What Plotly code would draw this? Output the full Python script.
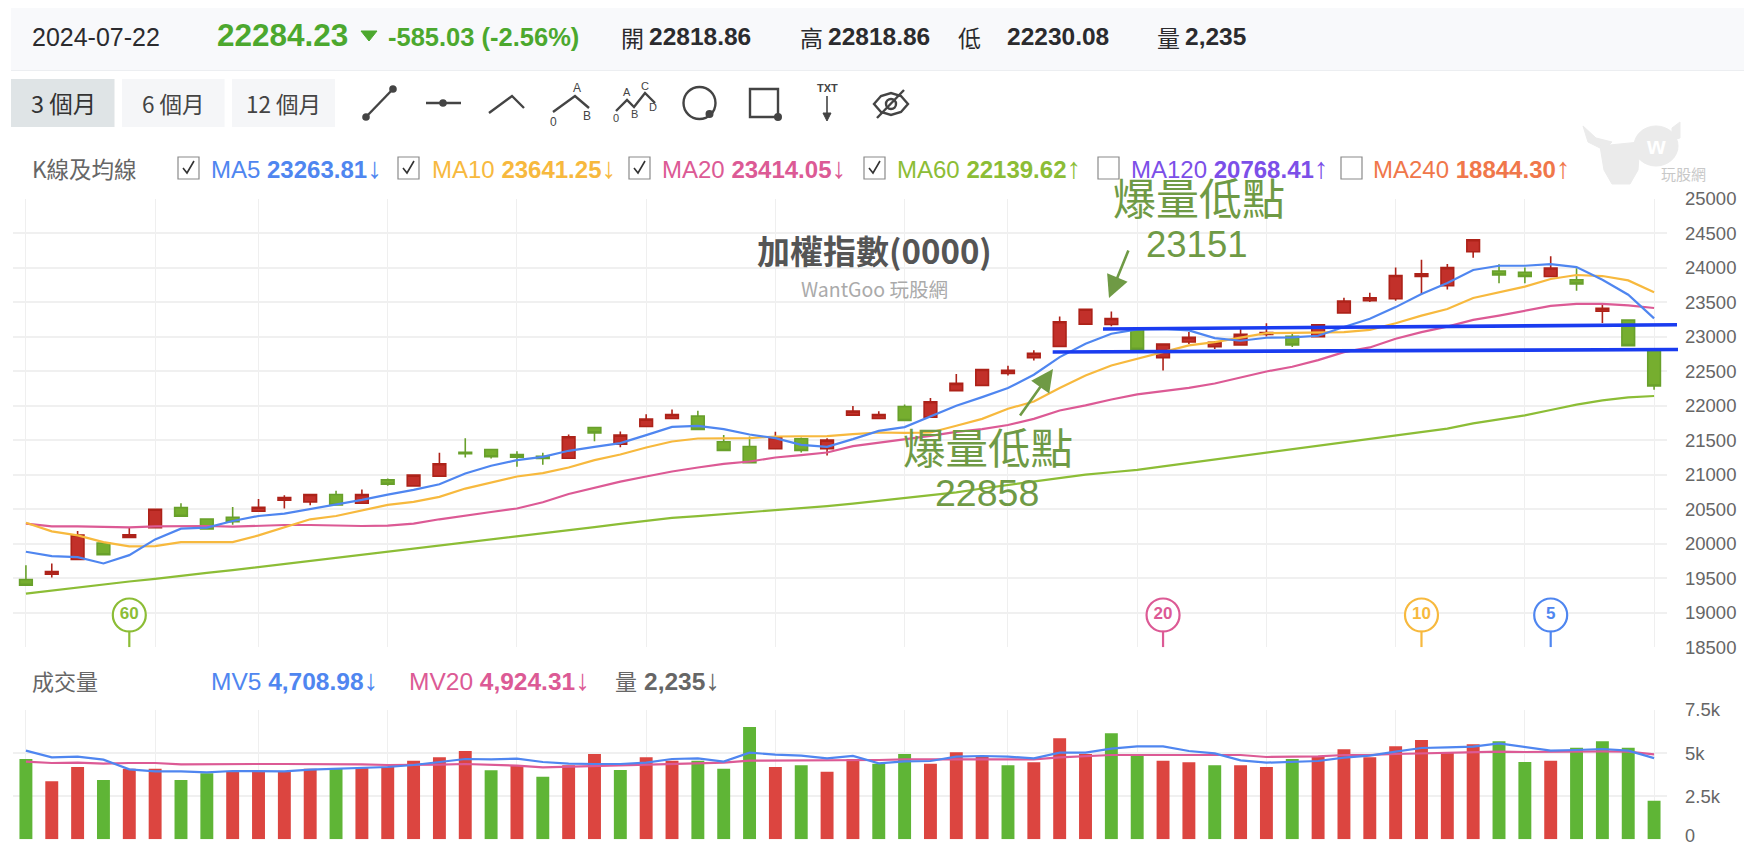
import plotly.graph_objects as go

# the page keeps the browser's 8px body margin, so the figure is 16px smaller than the window
W, H = 1736, 838
PAGE = 8
FONT = "Liberation Sans, Noto Sans CJK TC, sans-serif"
CJK = "Noto Sans CJK TC, Liberation Sans, sans-serif"

days = list(range(64))
grid_days = [0, 5, 9, 14, 19, 24, 29, 34, 38, 43, 48, 53, 58, 63]

opens = [19482, 19559, 19772, 20010, 20092, 20233, 20523, 20359, 20383, 20470, 20630, 20606, 20712, 20586, 20925, 20838,
         20979, 21323, 21365, 21293, 21268, 21239, 21684, 21442, 21698, 21814, 21848, 21476, 21408, 21375, 21520, 21375,
         21862, 21814, 21988, 21833, 22217, 22294, 22466, 22696, 22858, 23180, 23175, 23110, 22696, 22922, 22854, 22878,
         23032, 23003, 22998, 23343, 23520, 23549, 23870, 23736, 24229, 23951, 23932, 23870, 23824, 23367, 23240, 22818.86]
highs = [19690, 19714, 20184, 20010, 20233, 20510, 20586, 20359, 20533, 20649, 20703, 20712, 20766, 20785, 20945, 20993,
         21318, 21526, 21365, 21341, 21317, 21582, 21684, 21626, 21877, 21945, 21925, 21573, 21553, 21621, 21539, 21529,
         21993, 21920, 22017, 22109, 22457, 22524, 22577, 22802, 23290, 23396, 23362, 23110, 22893, 23065, 22935, 23118,
         23195, 23036, 23171, 23563, 23635, 23999, 24114, 24052, 24411, 24047, 23999, 24162, 23988, 23473, 23240, 22818.86]
lows = [19399, 19511, 19772, 19840, 20092, 20233, 20397, 20213, 20276, 20470, 20509, 20557, 20562, 20586, 20838, 20838,
        20979, 21250, 21235, 21114, 21143, 21239, 21486, 21399, 21698, 21814, 21655, 21350, 21172, 21375, 21321, 21278,
        21862, 21814, 21785, 21833, 22217, 22280, 22438, 22653, 22858, 23180, 23151, 22815, 22510, 22893, 22821, 22878,
        23003, 22850, 22998, 23343, 23501, 23520, 23611, 23683, 24143, 23774, 23774, 23870, 23665, 23198, 22869.26, 22230.08]
closes = [19399, 19598, 20126, 19840, 20131, 20499, 20397, 20213, 20320, 20528, 20669, 20712, 20562, 20712, 20862, 20993,
          21158, 21303, 21259, 21254, 21235, 21549, 21606, 21573, 21804, 21872, 21655, 21350, 21172, 21534, 21350, 21500,
          21920, 21872, 21785, 22056, 22323, 22524, 22510, 22759, 23214, 23396, 23262, 22815, 22893, 22989, 22917, 23032,
          23060, 22878, 23171, 23515, 23563, 23884, 23908, 23999, 24402, 23894, 23870, 23994, 23762, 23410, 22869.26, 22284.23]

ma5 = [19884, 19821, 19806, 19714, 19835, 20063, 20218, 20233, 20329, 20402, 20436, 20499, 20562, 20635, 20712, 20780,
       20862, 21017, 21129, 21210, 21259, 21346, 21404, 21457, 21573, 21693, 21708, 21660, 21582, 21529, 21433, 21404,
       21515, 21635, 21689, 21843, 21998, 22123, 22254, 22447, 22703, 22896, 23041, 23104, 23113, 23089, 22978, 22940,
       22983, 22988, 23012, 23138, 23258, 23427, 23617, 23776, 23964, 24026, 24026, 24050, 24007, 23824, 23607, 23263.81]
ma10 = [20305, 20179, 20121, 20024, 19961, 19966, 20024, 20024, 20024, 20121, 20237, 20354, 20402, 20484, 20562, 20606,
        20678, 20799, 20887, 20974, 21022, 21104, 21210, 21292, 21394, 21481, 21524, 21529, 21529, 21553, 21558, 21558,
        21587, 21611, 21606, 21611, 21708, 21809, 21954, 22060, 22254, 22437, 22582, 22679, 22775, 22872, 22920, 22983,
        23051, 23055, 23065, 23065, 23097, 23193, 23304, 23400, 23559, 23641, 23723, 23834, 23892, 23877, 23814, 23641.25]
ma20 = [20291, 20252, 20252, 20242, 20237, 20252, 20257, 20257, 20247, 20262, 20271, 20271, 20262, 20257, 20262, 20291,
        20354, 20402, 20460, 20510, 20600, 20720, 20810, 20900, 20974, 21046, 21104, 21157, 21191, 21249, 21283, 21321,
        21413, 21462, 21505, 21563, 21621, 21660, 21720, 21809, 21930, 22003, 22089, 22162, 22210, 22258, 22321, 22408,
        22495, 22563, 22659, 22775, 22843, 22969, 23065, 23145, 23242, 23304, 23376, 23444, 23473, 23473, 23453, 23414.05]
ma60 = [19278, 19322, 19375, 19419, 19453, 19491, 19540, 19579, 19617, 19661, 19705, 19748, 19797, 19840, 19884, 19927,
        19971, 20015, 20063, 20108, 20150, 20195, 20240, 20288, 20332, 20375, 20400, 20428, 20456, 20484, 20512, 20545,
        20580, 20620, 20660, 20700, 20745, 20800, 20850, 20900, 20950, 21000, 21035, 21070, 21120, 21170, 21220, 21270,
        21320, 21370, 21420, 21470, 21520, 21566, 21614, 21667, 21744, 21802, 21860, 21937, 22014, 22076, 22120, 22139.62]

volumes = [4659, 3363, 4195, 3441, 4098, 4098, 3441, 3827, 3943, 3982, 3943, 4098, 4098, 4156, 4214, 4562,
           4755, 5122, 4001, 4291, 3634, 4291, 4948, 4021, 4755, 4562, 4562, 4098, 6514, 4195, 4291, 3924,
           4659, 4388, 4948, 4388, 5045, 4833, 4291, 4465, 5857, 4948, 6147, 4833, 4562, 4465, 4291, 4291,
           4195, 4659, 4833, 5219, 4755, 5393, 5760, 5026, 5509, 5683, 4485, 4562, 5316, 5683, 5316, 2235]
vol_dir = ("g r r g r r g g r r r r g r r r r r g r g r r g r r g g g r g r "
           "r g g r r r g r r r g g r r g r r g r r r r r r r g g r g g g g").split()
mv5 = [5142, 4755, 4794, 4620, 4059, 3943, 3943, 3885, 3963, 3963, 3943, 4040, 4098, 4156, 4195, 4311,
       4465, 4659, 4639, 4678, 4485, 4388, 4369, 4369, 4446, 4659, 4697, 4504, 5026, 4910, 4852, 4697,
       4833, 4407, 4523, 4543, 4794, 4833, 4794, 4697, 5026, 5026, 5258, 5393, 5393, 5122, 4987, 4581,
       4446, 4485, 4543, 4736, 4852, 5084, 5296, 5335, 5374, 5567, 5335, 5142, 5180, 5238, 5142, 4708.98]
mv20 = [4504, 4427, 4446, 4388, 4427, 4427, 4349, 4369, 4369, 4369, 4369, 4369, 4369, 4349, 4311, 4311,
        4330, 4369, 4330, 4272, 4175, 4214, 4272, 4311, 4349, 4349, 4427, 4446, 4562, 4562, 4562, 4581,
        4601, 4601, 4639, 4639, 4639, 4601, 4639, 4639, 4755, 4833, 4890, 4890, 4890, 4890, 4890, 4890,
        4775, 4794, 4813, 4890, 4890, 4948, 4987, 5006, 5026, 5084, 5065, 5084, 5084, 5103, 5084, 4924.31]

price_ticks = [25000, 24500, 24000, 23500, 23000, 22500, 22000, 21500, 21000, 20500, 20000, 19500, 19000, 18500]
vol_ticks = [7500, 5000, 2500, 0]
# the 0 sits too close to the page edge for an axis label, it gets an annotation below
vol_tick_text = ["7.5k", "5k", "2.5k", ""]

flag_days = [4, 44, 54, 59]
flag_text = ["60", "20", "10", "5"]
flag_price = [18968, 18968, 18968, 18968]

BLUE, ORANGE, PINK, LIME, PURPLE, CORAL = "#4f86f0", "#f7b93e", "#dc5a95", "#8cbd36", "#7c4fe8", "#f0774a"
flag_colors = [LIME, PINK, ORANGE, BLUE]
ma_legend = [
    ("MA5", "23263.81", "↓", BLUE, 210, 178, True),
    ("MA10", "23641.25", "↓", ORANGE, 431, 398, True),
    ("MA20", "23414.05", "↓", PINK, 661, 629, True),
    ("MA60", "22139.62", "↑", LIME, 896, 864, True),
    ("MA120", "20768.41", "↑", PURPLE, 1130, 1098, False),
    ("MA240", "18844.30", "↑", CORAL, 1372, 1341, False),
]


def fx(x):
    return (x - PAGE) / W


def fy(y):
    return 1 - (y - PAGE) / H


def label(x, y, text, size, color, anchor="left", family=FONT):
    return dict(xref="paper", yref="paper", x=fx(x), y=fy(y), text=text, showarrow=False,
                xanchor=anchor, yanchor="middle", align=anchor, borderpad=0,
                font=dict(family=family, size=size, color=color))


def seg(x0, y0, x1, y1, color="#444444", width=2.4):
    return dict(type="line", xref="paper", yref="paper", x0=fx(x0), y0=fy(y0), x1=fx(x1), y1=fy(y1),
                line=dict(color=color, width=width), layer="above")


def box(x0, y0, x1, y1, fill, line="rgba(0,0,0,0)", width=0, layer="below"):
    return dict(type="rect", xref="paper", yref="paper", x0=fx(x0), y0=fy(y0), x1=fx(x1), y1=fy(y1),
                fillcolor=fill, line=dict(color=line, width=width), layer=layer)


def oval(cx, cy, r, fill="rgba(0,0,0,0)", line="#444444", width=2.4, ry=None):
    ry = ry or r
    return dict(type="circle", xref="paper", yref="paper", x0=fx(cx - r), y0=fy(cy - ry), x1=fx(cx + r), y1=fy(cy + ry),
                fillcolor=fill, line=dict(color=line, width=width), layer="above")


def poly(points, fill=None, line="#444444", width=2.4, close=False):
    path = "M " + " L ".join(f"{fx(x):.5f} {fy(y):.5f}" for x, y in points) + (" Z" if close else "")
    return dict(type="path", xref="paper", yref="paper", path=path, fillcolor=fill or "rgba(0,0,0,0)",
                line=dict(color=line, width=width), layer="above")


def arrow_text(arrow, size=29):
    return f'<span style="font-size:{size}px">{arrow}</span>'


fig = go.Figure()
fig.add_trace(go.Candlestick(
    x=days, open=opens, high=highs, low=lows, close=closes, xaxis="x", yaxis="y", whiskerwidth=0,
    increasing=dict(line=dict(color="#ad2219", width=1.6), fillcolor="#c2302a"),
    decreasing=dict(line=dict(color="#68a02b", width=1.6), fillcolor="#76ae2f"),
    showlegend=False, hoverinfo="skip",
))
for values, color in [(ma60, LIME), (ma20, PINK), (ma10, ORANGE), (ma5, BLUE)]:
    fig.add_trace(go.Scatter(x=days, y=values, mode="lines", xaxis="x", yaxis="y",
                             line=dict(color=color, width=2.2), showlegend=False))
fig.add_trace(go.Scatter(
    x=flag_days, y=flag_price, mode="markers+text", text=flag_text, textposition="middle center",
    textfont=dict(family=FONT, size=17, color=flag_colors, weight="bold"),
    marker=dict(size=33, color="white", line=dict(color=flag_colors, width=2.2)),
    xaxis="x", yaxis="y", showlegend=False,
))
fig.add_trace(go.Bar(
    x=days, y=volumes, width=0.5, xaxis="x2", yaxis="y2", showlegend=False,
    marker=dict(color=["#dc4540" if v == "r" else "#5fb536" for v in vol_dir], line=dict(width=0)),
))
for values, color in [(mv20, PINK), (mv5, BLUE)]:
    fig.add_trace(go.Scatter(x=days, y=values, mode="lines", xaxis="x2", yaxis="y2",
                             line=dict(color=color, width=2.2), showlegend=False))

shapes = [
    box(11, 8, 1744, 70, "#f8f9fb"),
    seg(11, 70.5, 1744, 70.5, "#eceef1", 1),
    box(11, 79, 114.5, 127, "#dfe4e6"),
    box(122, 79, 224.6, 127, "#f5f6f8"),
    box(232, 79, 335, 127, "#f5f6f8"),
]
for day, color in zip(flag_days, flag_colors):
    shapes.append(dict(type="line", xref="x", yref="y", x0=day, x1=day, y0=18500, y1=18740,
                       line=dict(color=color, width=2.2), layer="above"))

# toolbar icons
shapes += [seg(366, 117, 393, 89), oval(366, 117, 2.6, "#444444"), oval(393, 89, 2.6, "#444444")]
shapes += [seg(426, 103, 461, 103), oval(443, 103, 2.6, "#444444")]
shapes += [poly([(489, 113), (512, 96), (524, 108)])]
shapes += [poly([(553, 112), (575, 96), (589, 108)])]
shapes += [poly([(616, 111), (627, 100), (634, 107), (645, 93), (655, 103)])]
shapes += [oval(699.5, 103, 16), oval(709.5, 114, 2.8, "#444444")]
shapes += [box(750, 89, 778, 117, "rgba(0,0,0,0)", "#444444", 2.4, "above"), oval(778, 117, 2.8, "#444444")]
shapes += [seg(827, 96, 827, 118, width=1.6), poly([(823, 113), (831, 113), (827, 121)], "#444444", width=1, close=True)]
shapes += [
    poly([(874, 104), (881, 96), (891, 93), (901, 96), (908, 104), (901, 112), (891, 115), (881, 112)], close=True),
    oval(891, 104, 5),
    seg(877, 118, 904, 90),
]

# checkboxes of the average legend
for name, value, arrow, color, tx, bx, checked in ma_legend:
    shapes.append(box(bx, 157, bx + 21, 179, "white", "#8a8a8a", 1.2, "above"))
    if checked:
        shapes.append(poly([(bx + 5, 168), (bx + 9, 173), (bx + 16, 161)], line="#333333", width=1.6))

# watermark
MARK = "#ebebeb"
shapes += [
    poly([(1583, 126), (1588, 142), (1604, 150), (1612, 142), (1596, 138)], MARK, MARK, 1, True),
    poly([(1600, 146), (1640, 142), (1638, 170), (1630, 184), (1612, 184), (1604, 170)], MARK, MARK, 1, True),
    oval(1656, 146, 22, MARK, MARK, 1, 20),
    poly([(1672, 128), (1680, 122), (1680, 138), (1672, 140)], MARK, MARK, 1, True),
]

# hand drawn support lines, they run past the plot area
shapes += [
    seg(1103, 329, 1677, 324.7, "#1a3cf0", 3.6),
    seg(1052.7, 352, 1678, 349.5, "#1a3cf0", 3.6),
]
# triangle next to the close
shapes.append(poly([(361, 31), (377, 31), (369, 41)], "#4ca82e", "#4ca82e", 1, True))

GREEN_TXT = "#4ca82e"
DARK = "#2b2b2e"
annotations = [
    label(31, 37, "2024-07-22", 25, DARK),
    label(216, 35, "<b>22284.23</b>", 31.5, GREEN_TXT),
    label(387, 37, "<b>-585.03 (-2.56%)</b>", 25.5, GREEN_TXT),
    label(620, 37, "開", 23, DARK, family=CJK),
    label(648, 37, "<b>22818.86</b>", 24.5, DARK),
    label(799, 37, "高", 23, DARK, family=CJK),
    label(827, 37, "<b>22818.86</b>", 24.5, DARK),
    label(957, 37, "低", 23, DARK, family=CJK),
    label(1006, 37, "<b>22230.08</b>", 24.5, DARK),
    label(1156, 37, "量", 23, DARK, family=CJK),
    label(1184, 37, "<b>2,235</b>", 24.5, DARK),
    label(63, 103, "3 個月", 23.5, "#333333", "center", CJK),
    label(173, 103, "6 個月", 22.5, "#444444", "center", CJK),
    label(283.5, 103, "12 個月", 22.5, "#444444", "center", CJK),
    label(576.5, 88, "A", 12, "#444444", "center"),
    label(553, 122, "0", 12, "#444444", "center"),
    label(587, 116, "B", 12, "#444444", "center"),
    label(627, 92, "A", 11, "#444444", "center"),
    label(645, 86, "C", 11, "#444444", "center"),
    label(616, 118, "0", 11, "#444444", "center"),
    label(634, 114, "B", 11, "#444444", "center"),
    label(652.5, 107, "D", 11, "#444444", "center"),
    label(827, 88, "<b>TXT</b>", 11, "#444444", "center"),
    label(31, 168, "K線及均線", 22.5, "#666666", family=CJK),
    label(1656, 146, "<b>w</b>", 24, "#ffffff", "center"),
    label(1683, 173, "玩股網", 15, "#c8c8c8", "center", CJK),
    label(31, 680, "成交量", 22, "#666666", family=CJK),
    label(210, 680, f"MV5 <b>4,708.98</b>{arrow_text('↓')}", 24.5, BLUE),
    label(408, 680, f"MV20 <b>4,924.31</b>{arrow_text('↓')}", 24.5, PINK),
    label(614, 680, "量", 22, "#666666", family=CJK),
    label(643, 680, f"<b>2,235</b>{arrow_text('↓')}", 24.5, "#666666"),
    label(1684, 835.5, "0", 18, "#666666"),
    label(874, 250, "<b>加權指數(0000)</b>", 33, "#555555", "center", CJK),
    label(874, 288, "WantGoo 玩股網", 19.5, "#aaaaaa", "center", CJK),
    label(1199, 196, "爆量低點", 43, "#6f9a45", "center", CJK),
    label(1197, 244, "23151", 36.5, "#6f9a45", "center"),
    label(988, 445, "爆量低點", 42.5, "#6f9a45", "center", CJK),
    label(987, 493, "22858", 37.5, "#6f9a45", "center"),
    dict(xref="paper", yref="paper", x=fx(1109), y=fy(298), axref="pixel", ayref="pixel", ax=20, ay=-49,
         text="", showarrow=True, arrowhead=2, arrowsize=1.7, arrowwidth=2.6, arrowcolor="#6f9a45"),
    dict(xref="paper", yref="paper", x=fx(1053), y=fy(369), axref="pixel", ayref="pixel", ax=-34, ay=48,
         text="", showarrow=True, arrowhead=2, arrowsize=1.7, arrowwidth=2.6, arrowcolor="#6f9a45"),
]
for name, value, arrow, color, tx, bx, checked in ma_legend:
    annotations.append(label(tx, 168, f"{name} <b>{value}</b>{arrow_text(arrow)}", 24, color))

axis_common = dict(range=[-0.5, 63.5], tickmode="array", tickvals=grid_days, showticklabels=False, showgrid=True,
                   gridcolor="#efefef", gridwidth=1.4, zeroline=False, showline=False, ticks="")
y_common = dict(side="right", showgrid=True, gridcolor="#f0f0f0", gridwidth=2, zeroline=False, showline=False,
                tickmode="array", ticklabelstandoff=17, tickfont=dict(family=FONT, size=18.5, color="#666666"),
                ticks="")
fig.update_layout(
    width=W, height=H, margin=dict(l=0, r=0, t=0, b=0, pad=0, autoexpand=False), autosize=False,
    paper_bgcolor="white", plot_bgcolor="white", showlegend=False, boxgap=0.3, bargap=0.5, hovermode=False,
    font=dict(family=FONT),
    xaxis=dict(domain=[fx(13), fx(1667)], anchor="y", rangeslider=dict(visible=False), **axis_common),
    xaxis2=dict(domain=[fx(13), fx(1667)], anchor="y2", **axis_common),
    yaxis=dict(domain=[fy(647.3), fy(198.5)], anchor="x", range=[18500, 25000], tickvals=price_ticks,
               tickformat="d", automargin=False, **y_common),
    yaxis2=dict(domain=[fy(839.3), fy(710)], anchor="x2", range=[0, 7500], tickvals=vol_ticks,
                ticktext=vol_tick_text, automargin=False, **y_common),
    shapes=shapes,
    annotations=annotations,
)

fig.write_html("out.html")
